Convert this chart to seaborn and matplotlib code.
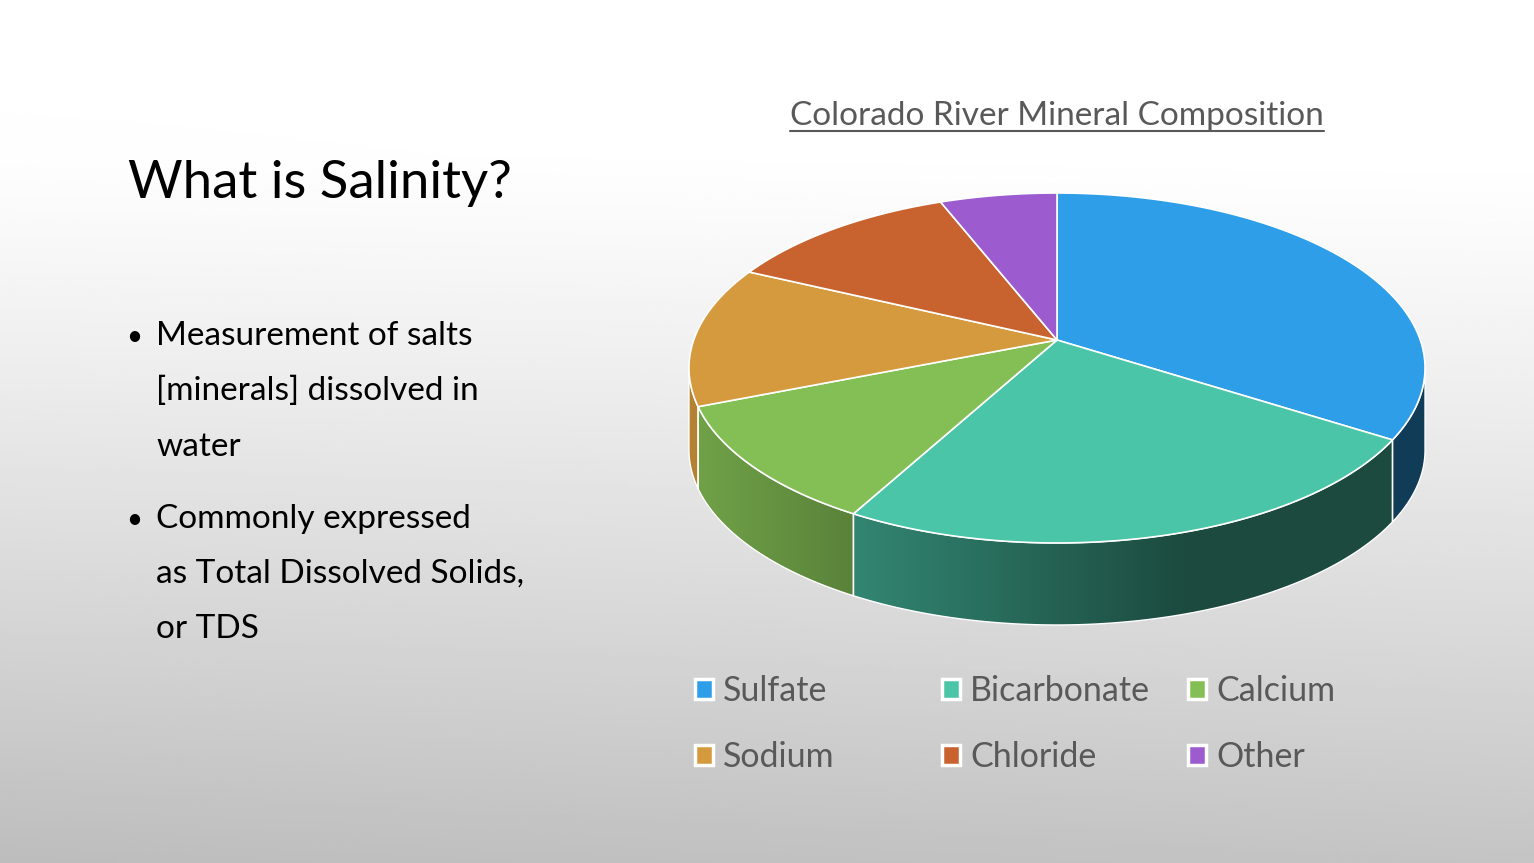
import numpy as np
import matplotlib
matplotlib.use('Agg')
import matplotlib.pyplot as plt
import seaborn as sns
from matplotlib.patches import Polygon, Patch
from matplotlib.lines import Line2D
from matplotlib.colors import to_rgb
from matplotlib.transforms import Transform, Affine2D
from matplotlib.path import Path

sns.set_theme(style='white')
plt.rcParams['font.family'] = ['Lato', 'DejaVu Sans']

# --- data ---
minerals = ['Sulfate', 'Bicarbonate', 'Calcium', 'Sodium', 'Chloride', 'Other']
shares = [34, 24, 11, 13, 12, 6]
colors = ['#2e9ee8', '#4ac5a8', '#84bf55', '#d69a3e', '#c8622f', '#9c5bcf']

slide_title = 'What is Salinity?'
bullet_lines = [
    ['Measurement of salts', '[minerals] dissolved in', 'water'],
    ['Commonly expressed', 'as Total Dissolved Solids,', 'or TDS'],
]
chart_title = 'Colorado River Mineral Composition'

W, H = 1534, 863
fig = plt.figure(figsize=(W / 100, H / 100), dpi=100)

# background: white on top, fading to grey at the bottom
bg = fig.add_axes([0, 0, 1, 1])
yy, xx = np.mgrid[0:1:300j, 0:1:500j]
shade = 1 - 0.23 * np.clip((yy - 0.18) / 0.82, 0, 1) ** 1.15 - 0.03 * (1 - xx) * yy
bg.imshow(shade, cmap='gray', vmin=0, vmax=1, extent=[0, 1, 0, 1],
          aspect='auto', origin='upper')
bg.axis('off')


class Tilt(Transform):
    """Perspective tilt of the pie plane: the far side shrinks a little."""
    input_dims = output_dims = 2

    def __init__(self, k):
        super().__init__()
        self.k = k

    def transform_non_affine(self, values):
        values = np.asarray(values, float)
        w = 1 + self.k * values[:, 1]
        return values / w[:, None]

    def transform_path_non_affine(self, path):
        # flatten the bezier arcs first so the projection stays smooth
        s = 1000.0
        polys = path.to_polygons(transform=Affine2D().scale(s), closed_only=False)
        return Path.make_compound_path(*[Path(self.transform_non_affine(p / s))
                                         for p in polys])


# --- pie axes ---
k = 0.16
A_px, B_px = 363.3, 170.5       # px per unit along x and y
cx_px, cy_px = 1057, 340        # apex of the pie on the slide
depth = 82 / B_px
xl = (-1.05, 1.05)
yl = (-1.75, 1.15)
ax = fig.add_axes([(cx_px + xl[0] * A_px) / W,
                   (H - (cy_px - yl[0] * B_px)) / H,
                   (xl[1] - xl[0]) * A_px / W,
                   (yl[1] - yl[0]) * B_px / H])
ax.patch.set_alpha(0)
tilt = Tilt(k)

wedges, _ = ax.pie(shares, colors=colors, startangle=90, counterclock=False,
                   wedgeprops=dict(edgecolor='white', linewidth=1.2, zorder=5))
for w in wedges:
    w.set_transform(tilt + ax.transData)


def light(x):
    # side walls are lit from the left
    return np.interp(x, [-1, -0.5, 0.35, 1], [0.85, 0.66, 0.38, 0.38])


# side walls for the visible front part of each wedge
gx = np.linspace(-1.02, 1.02, 400)
for w, c in zip(wedges, colors):
    t = np.radians(np.linspace(w.theta1, w.theta2, 400))
    t = t[np.sin(t) <= -k]
    if len(t) < 2:
        continue
    top = tilt.transform(np.column_stack([np.cos(t), np.sin(t)]))
    bot = top[::-1] - [0, depth]
    poly = Polygon(np.vstack([top, bot]), closed=True, facecolor='none',
                   edgecolor='white', linewidth=1, zorder=3)
    ax.add_patch(poly)
    img = np.array(to_rgb(c))[None, None, :] * light(gx)[None, :, None]
    img = np.repeat(np.clip(img, 0, 1), 2, axis=0)
    im = ax.imshow(img, extent=[gx[0], gx[-1], -1.75, 0], aspect='auto',
                   zorder=2, interpolation='bilinear')
    im.set_clip_path(poly)

ax.set_aspect('auto')
ax.set_xlim(*xl)
ax.set_ylim(*yl)
ax.axis('off')

# --- slide text ---
fig.text(128 / W, 1 - 198 / H, slide_title, fontsize=38, color='black',
         ha='left', va='baseline')

baselines = [[345, 400, 456], [528, 583, 638]]
for lines, ys in zip(bullet_lines, baselines):
    fig.text(126 / W, 1 - ys[0] / H, '•', fontsize=20, color='black',
             ha='left', va='baseline')
    for line, y in zip(lines, ys):
        fig.text(156 / W, 1 - y / H, line, fontsize=24, color='black',
                 ha='left', va='baseline')

t = fig.text(1057 / W, 1 - 125 / H, chart_title, fontsize=24, color='#595959',
             ha='center', va='baseline')

# --- legend: three columns of two entries ---
handles = [Patch(facecolor=c, edgecolor='white', linewidth=2.5) for c in colors]
columns = [(0, 3), (1, 4), (2, 5)]
col_x = [695, 942, 1188]
for (i, j), x in zip(columns, col_x):
    fig.legend([handles[i], handles[j]], [minerals[i], minerals[j]],
               loc='center left', bbox_to_anchor=(x / W, 1 - 724 / H),
               frameon=False, fontsize=24.5, labelcolor='#595959',
               handlelength=0.52, handleheight=0.52, handletextpad=0.3,
               labelspacing=1.0, borderpad=0, borderaxespad=0)

# underline the chart title
fig.canvas.draw()
bb = t.get_window_extent()
fig.add_artist(Line2D([bb.x0 / W, bb.x1 / W], [(H - 131) / H] * 2,
                      color='#595959', linewidth=1.5))

fig.savefig('out.png', dpi=100)
